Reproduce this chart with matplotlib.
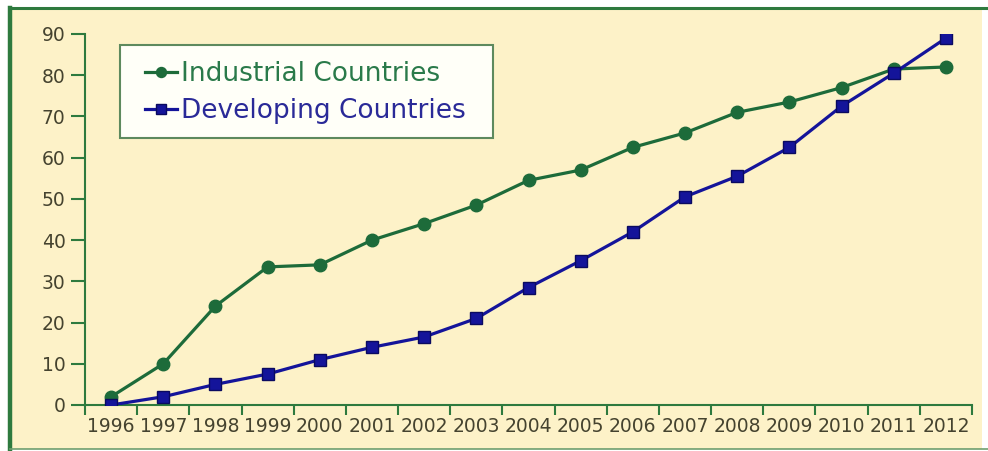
import matplotlib
matplotlib.use("Agg")
import matplotlib.pyplot as plt
from matplotlib.patches import Rectangle
from matplotlib.lines import Line2D

years = [str(y) for y in range(1996, 2013)]
industrial = [2, 10, 24, 33.5, 34, 40, 44, 48.5, 54.5, 57, 62.5, 66, 71, 73.5, 77, 81.5, 82]
developing = [0, 2, 5, 7.5, 11, 14, 16.5, 21, 28.5, 35, 42, 50.5, 55.5, 62.5, 72.5, 80.5, 89]
yticks = list(range(0, 100, 10))

W, H = 988, 451
cream = "#fdf2c8"
border = "#2e7a3e"
green = "#1d6b3a"
blue = "#14149a"
text_col = "#45432f"

plt.rcParams["font.family"] = ["DejaVu Sans"]

fig = plt.figure(figsize=(W / 100, H / 100), dpi=100, facecolor="white")

# cream panel with green frame (left, top, bottom)
fig.patches.append(Rectangle((10 / W, 2 / H), 972 / W, 441 / H, transform=fig.transFigure,
                             facecolor=cream, edgecolor="none", zorder=-3))
fig.lines.append(Line2D([10 / W, 10 / W], [2 / H, 443 / H], transform=fig.transFigure,
                        color=border, lw=3.2, zorder=-2))
fig.lines.append(Line2D([10 / W, 1], [443 / H, 443 / H], transform=fig.transFigure,
                        color=border, lw=2.2, zorder=-2))
fig.lines.append(Line2D([10 / W, 1], [2.5 / H, 2.5 / H], transform=fig.transFigure,
                        color="#6f9f6f", lw=1.2, zorder=-2))

# legend box
fig.patches.append(Rectangle((120 / W, (H - 138) / H), 373 / W, 93 / H, transform=fig.transFigure,
                             facecolor="#fffff8", edgecolor="#5e8a5e", lw=1.5, zorder=-1))

ax = fig.add_axes([85 / W, (H - 405) / H, 887 / W, 371 / H])
ax.set_facecolor("none")

x = list(range(len(years)))
ax.plot(x, industrial, color=green, lw=2.3, marker="o", ms=9, mfc=green, mec=green,
        label="Industrial Countries", zorder=3)
ax.plot(x, developing, color=blue, lw=2.3, marker="s", ms=8.5, mfc=blue, mec="#0a0a60",
        label="Developing Countries", zorder=4)

ax.set_xlim(-0.5, len(years) - 0.5)
ax.set_ylim(0, 90)

for s in ["top", "right"]:
    ax.spines[s].set_visible(False)
for s in ["left", "bottom"]:
    ax.spines[s].set_color(border)
    ax.spines[s].set_linewidth(1.5)

ax.set_yticks(yticks)
ax.tick_params(axis="y", direction="out", length=10, width=1.5, color=border,
               labelsize=13.5, labelcolor=text_col, pad=4)
ax.set_xticks(x)
ax.set_xticklabels(years)
ax.tick_params(axis="x", which="major", length=0, labelsize=13.5, labelcolor=text_col, pad=9)
ax.set_xticks([i - 0.5 for i in range(len(years) + 1)], minor=True)
ax.tick_params(axis="x", which="minor", direction="out", length=7, width=1.5, color=border)

leg = fig.legend(*ax.get_legend_handles_labels(), loc="upper left",
                 bbox_to_anchor=(145 / W, (H - 61) / H), bbox_transform=fig.transFigure,
                 fontsize=19, frameon=False, handlelength=1.2, handletextpad=0.15,
                 borderpad=0, labelspacing=0.42, borderaxespad=0, markerscale=0.8)
leg.get_texts()[0].set_color("#2a7a4a")
leg.get_texts()[1].set_color("#2a2a98")

fig.savefig("out.png", dpi=100, facecolor="white")
